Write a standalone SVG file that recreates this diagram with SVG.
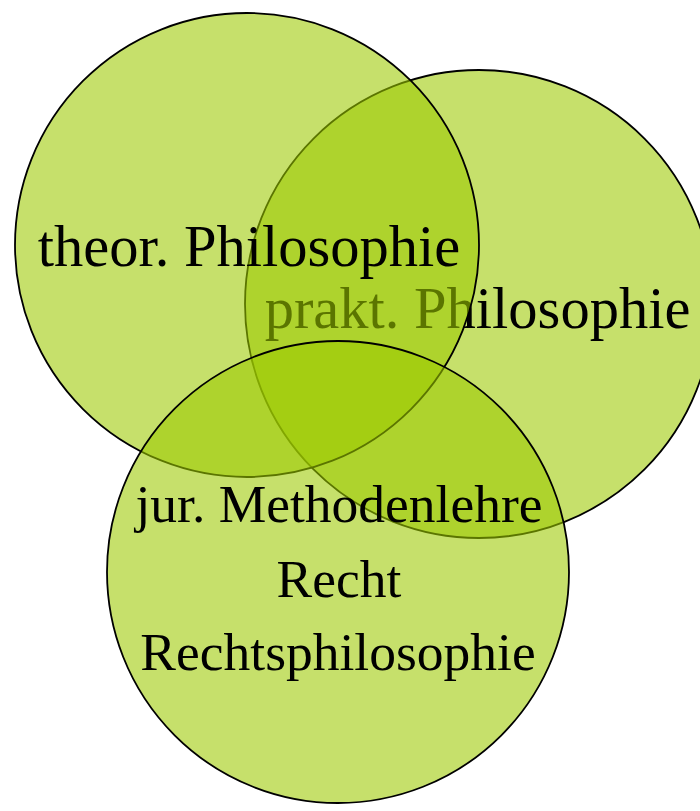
<svg xmlns="http://www.w3.org/2000/svg" width="700" height="811" viewBox="0 0 700 811">
<style>
.c{fill:#9dca00;fill-opacity:0.58;stroke:#000;stroke-width:1.8}
.t{font-family:"Liberation Serif","Times New Roman",serif;font-size:58.5px;fill:#000;text-anchor:middle}
.b{font-size:53.5px}
</style>
<rect width="700" height="811" fill="#fff"/>
<g id="prakt">
<circle class="c" cx="479" cy="304" r="234"/>
<text class="t" x="477.5" y="328">prakt. Philosophie</text>
</g>
<g id="theor">
<circle class="c" cx="247" cy="245" r="232"/>
<text class="t" x="249" y="266">theor. Philosophie</text>
</g>
<g id="recht">
<circle class="c" cx="338" cy="572" r="231"/>
<text class="t b" x="339" y="522">jur. Methodenlehre</text>
<text class="t b" x="339" y="597">Recht</text>
<text class="t b" x="338" y="670">Rechtsphilosophie</text>
</g>
<g id="connectors"/>
</svg>
